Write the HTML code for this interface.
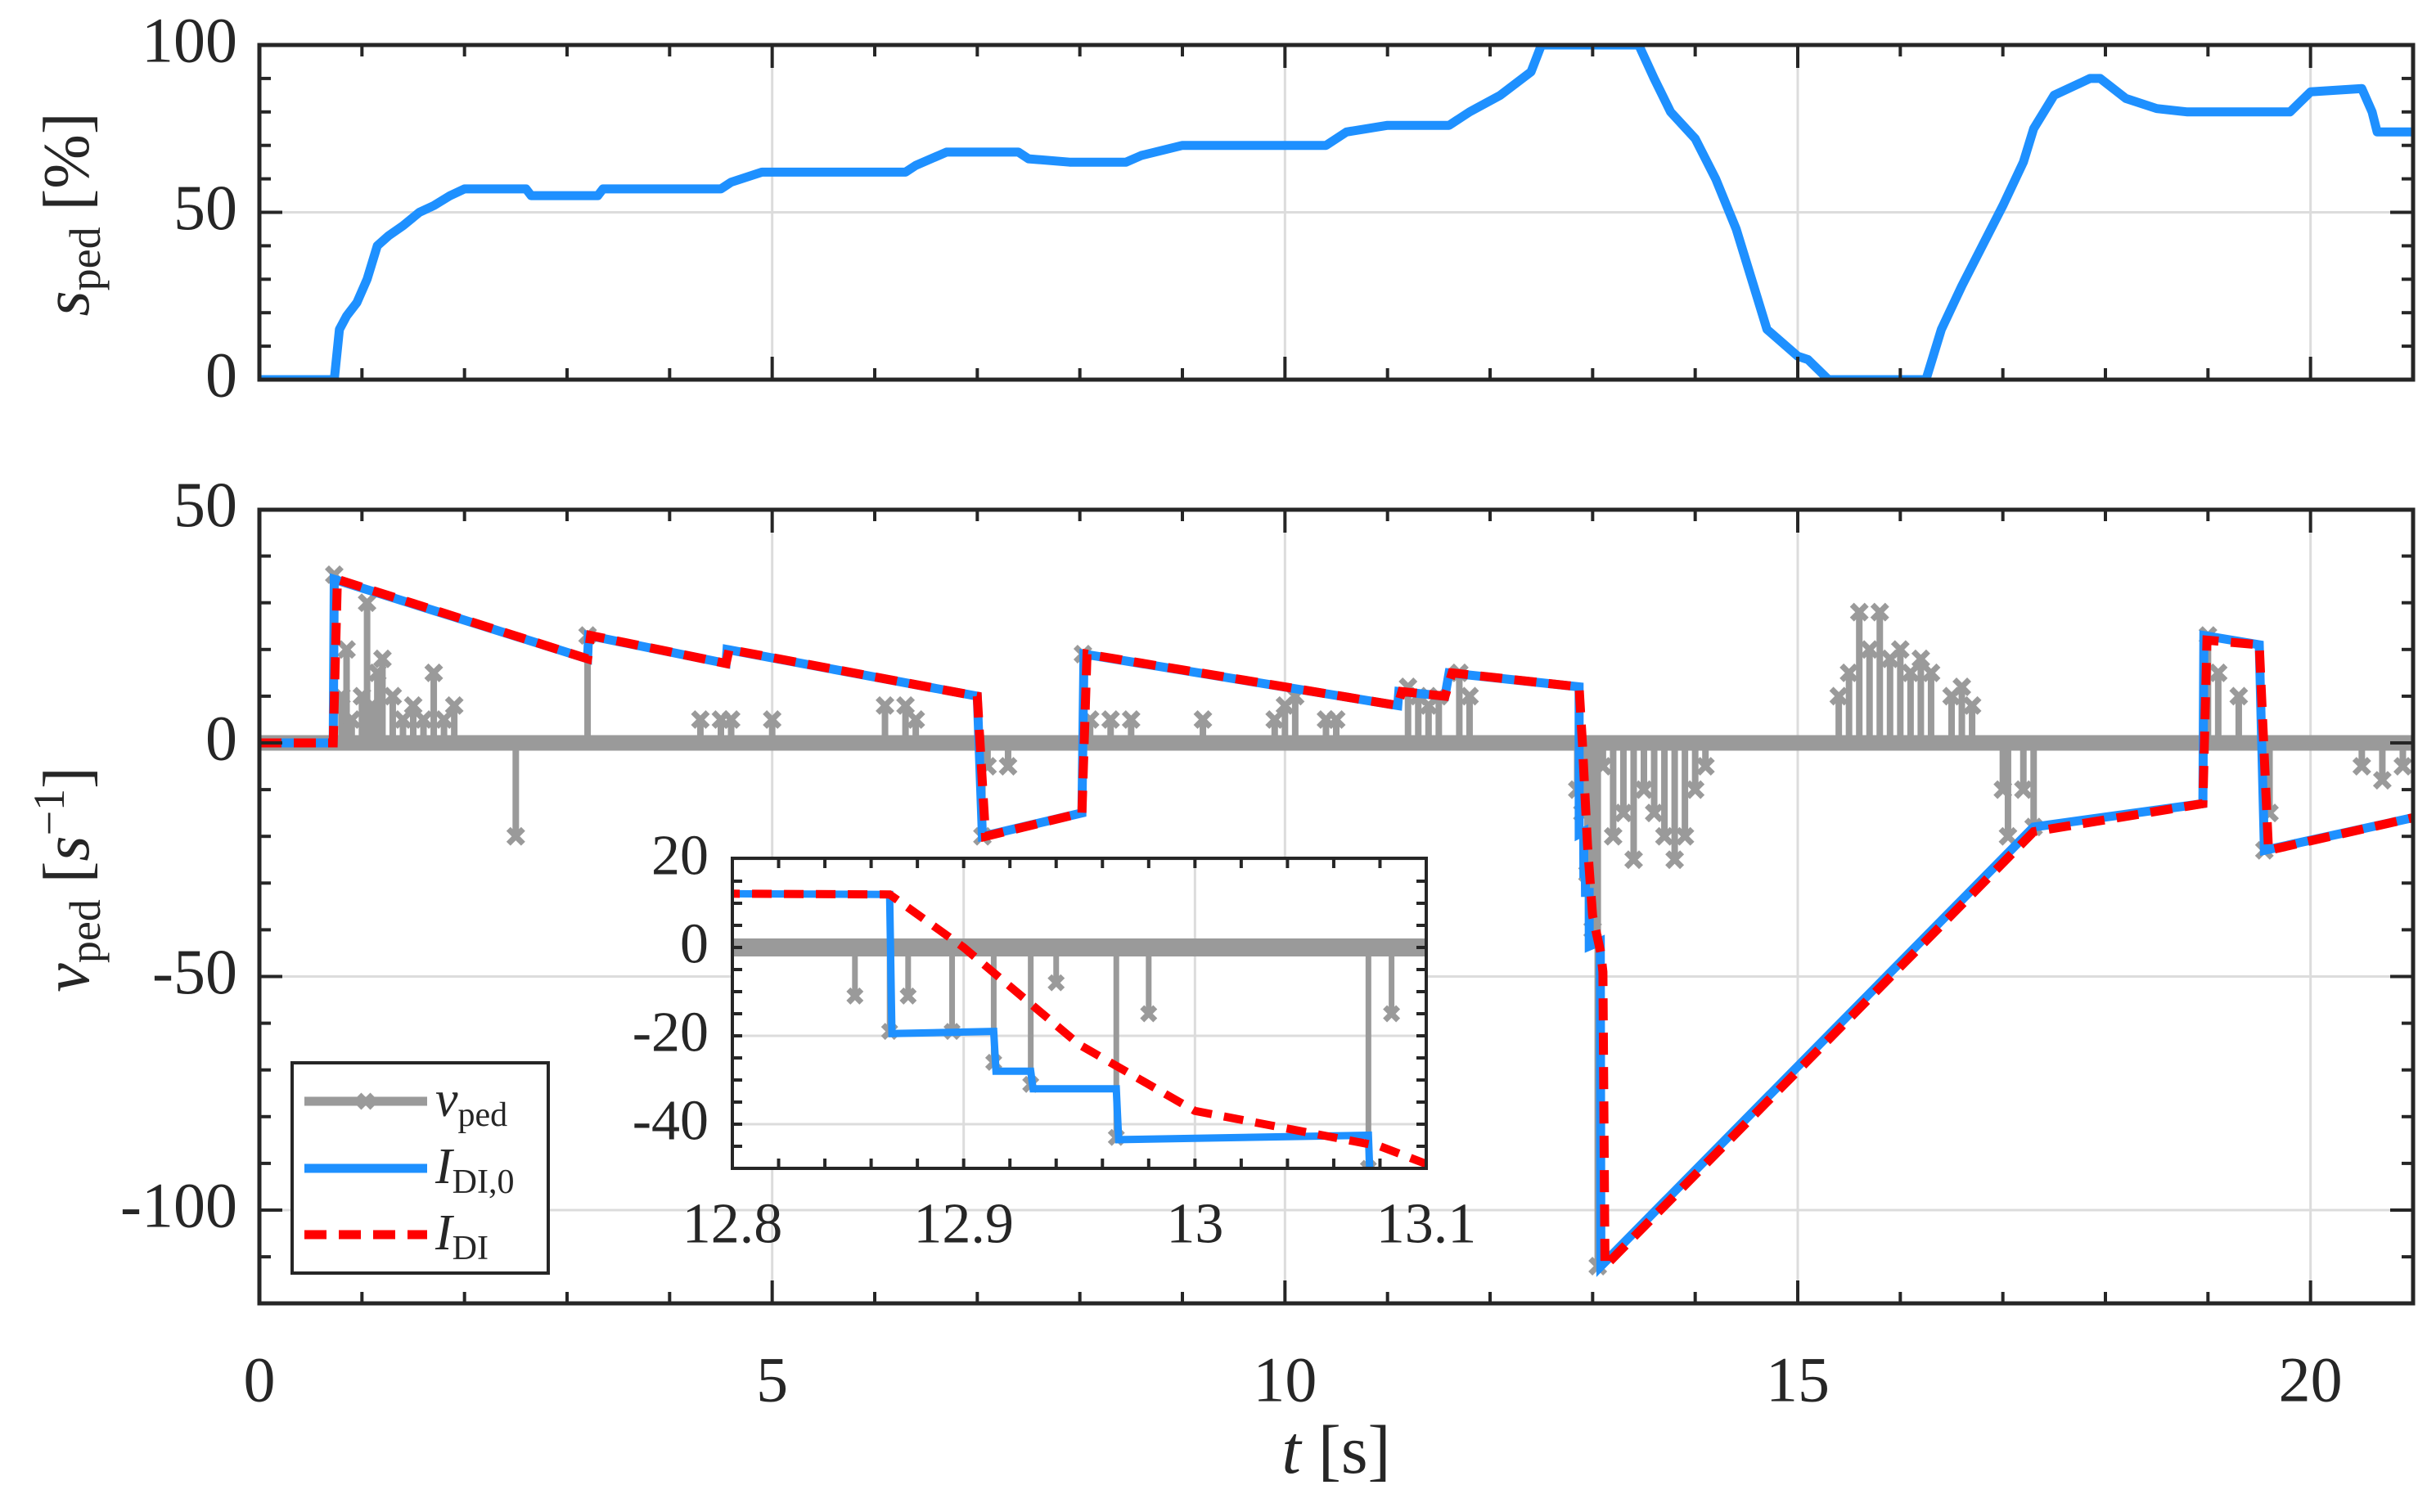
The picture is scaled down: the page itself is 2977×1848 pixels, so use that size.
<!DOCTYPE html>
<html><head><meta charset="utf-8"><style>
html,body{margin:0;padding:0;background:#fff;}
svg{display:block;font-family:"Liberation Serif",serif;}
</style></head><body>
<svg id="chart" width="2977" height="1848" viewBox="0 0 2977 1848" xmlns="http://www.w3.org/2000/svg">
<defs>
<clipPath id="c1"><rect x="317" y="55" width="2632" height="409"/></clipPath>
<clipPath id="c2"><rect x="317" y="623" width="2632" height="970"/></clipPath>
<clipPath id="c3"><rect x="895" y="1049" width="848" height="379"/></clipPath>
</defs>
<g id="root"></g>
</svg>
<script>
// ---- data ----
const sT=[0,0.73,0.78,0.85,0.95,1.05,1.15,1.26,1.4,1.56,1.7,1.86,2.0,2.6,2.65,3.3,3.35,4.5,4.6,4.9,6.3,6.4,6.7,7.4,7.5,7.9,8.45,8.6,9.0,10.4,10.6,11.0,11.6,11.8,12.1,12.4,12.5,13.45,13.6,13.76,14.0,14.2,14.4,14.6,14.7,15.0,15.1,15.3,16.25,16.4,16.6,16.8,17.0,17.2,17.3,17.5,17.85,17.95,18.2,18.5,18.8,19.7,19.8,20.0,20.5,20.6,20.65,21];
const sV=[0,0,15,19,23,30,40,43,46,50,52,55,57,57,55,55,57,57,59,62,62,64,68,68,66,65,65,67,70,70,74,76,76,80,85,92,100,100,90,80,72,60,45,25,15,7,6,0,0,15,28,40,52,65,75,85,90,90,84,81,80,80,80,86,87,80,74,74];
const bT=[0,0.72,0.73,3.2,3.21,4.55,4.56,7.0,7.05,8.02,8.04,11.1,11.11,11.56,11.6,12.868,12.869,12.913,12.914,12.929,12.93,12.966,12.967,13.075,13.08,17.3,18.95,18.96,19.5,19.55,21];
const bV=[0,0,35,18,23,17,20,10,-20,-15,19,8,11,10,15,12,-19.5,-19,-28,-28,-32,-32,-43.5,-42.5,-112,-18,-13,23,21,-23,-16];
const rT=[0,0.72,0.76,3.2,3.23,4.55,4.58,7.0,7.08,8.02,8.07,11.1,11.14,11.56,11.63,12.868,12.9,12.95,13.0,13.05,13.08,13.1,13.12,17.3,18.95,18.99,19.5,19.59,21];
const rV=[0,0,35,18,23,17,20,10,-20,-15,19,8,11,10,15,12,0,-22,-37,-42,-45,-49,-112,-19,-13,22,21,-23,-16];
const gT=[0.73,0.8,0.85,0.9,1.0,1.05,1.1,1.15,1.2,1.3,1.4,1.5,1.6,1.7,1.8,1.9,2.5,3.2,4.3,4.5,4.6,5.0,6.1,6.3,6.4,7.05,7.1,7.3,8.03,8.1,8.3,8.5,9.2,9.9,10.0,10.1,10.4,10.5,11.2,11.3,11.4,11.5,11.7,11.8,12.85,12.9,12.95,13.0,13.05,13.1,13.2,13.3,13.4,13.5,13.6,13.7,13.8,13.9,14.0,14.1,15.4,15.5,15.6,15.7,15.8,15.9,16.0,16.1,16.2,16.3,16.5,16.6,16.7,17.0,17.05,17.2,17.3,19.0,19.1,19.3,19.55,19.6,20.5,20.7,20.9];
const gV=[36,10,20,5,10,30,8,15,18,10,5,8,5,15,5,8,-20,23,5,5,5,5,8,8,5,-20,-5,-5,19,5,5,5,5,5,8,10,5,5,12,10,8,10,15,10,-10,-15,-28,-40,-112,-5,-20,-15,-25,-10,-15,-20,-25,-20,-10,-5,10,15,28,20,28,18,20,15,18,15,10,12,8,-10,-20,-10,-18,23,15,10,-23,-15,-5,-8,-5];
const iT=[12.853,12.868,12.876,12.895,12.913,12.929,12.94,12.966,12.98,13.075,13.085];
const iV=[-11,-19,-11,-19,-26,-31,-8,-43,-15,-50,-15];
const topYTicks=["0","50","100"], botYTicks=["50","0","-50","-100"], xTicks=["0","5","10","15","20"];
const inYTicks=["20","0","-20","-40"], inXTicks=["12.8","12.9","13","13.1"];

// ---- axes ----
const NS="http://www.w3.org/2000/svg", root=document.getElementById('root');
function el(t,a,p){const e=document.createElementNS(NS,t);for(const k in a)e.setAttribute(k,a[k]);(p||root).appendChild(e);return e;}
const X=t=>317+(t-0)*(2632/21);
const Y1=v=>464-v*4.09;
const Y2=v=>908-v*5.71;
const XI=t=>895+(t-12.8)*(848/0.3);
const YI=v=>1158-v*5.4;
const AX="#262626",GR="#dcdcdc",BL="#1e90ff",RD="#ff0000",GY="#9a9a9a";
function pathOf(ts,vs,fx,fy){return ts.map((t,i)=>(i?'L':'M')+fx(t).toFixed(1)+' '+fy(vs[i]).toFixed(1)).join(' ');}
function xmark(g,x,y,s){el('path',{d:`M${x-s} ${y-s}L${x+s} ${y+s}M${x-s} ${y+s}L${x+s} ${y-s}`,stroke:GY,'stroke-width':7,fill:'none'},g);}
function text(s,x,y,anchor,size,g,name){const t=el('text',{x:x,y:y,'text-anchor':anchor,'font-size':size,fill:AX,'dominant-baseline':'central'},g);t.textContent=s;return t;}

// top plot
const g1=el('g',{});


[0,5,10,15,20].forEach(t=>el('line',{x1:X(t),x2:X(t),y1:55,y2:464,stroke:GR,'stroke-width':3},g1));
[0,50,100].forEach(v=>el('line',{x1:317,x2:2949,y1:Y1(v),y2:Y1(v),stroke:GR,'stroke-width':3},g1));
const sp=el('path',{d:pathOf(sT,sV,X,Y1),stroke:BL,'stroke-width':11,fill:'none','clip-path':'url(#c1)','stroke-linejoin':'round'},g1);


for(let t=1;t<21;t++){const L=t%5?14:28;el('line',{x1:X(t),x2:X(t),y1:464,y2:464-L,stroke:AX,'stroke-width':4},g1);el('line',{x1:X(t),x2:X(t),y1:55,y2:55+L,stroke:AX,'stroke-width':4},g1);}
for(let v=10;v<100;v+=10){const L=v%50?14:28;el('line',{x1:317,x2:317+L,y1:Y1(v),y2:Y1(v),stroke:AX,'stroke-width':4},g1);el('line',{x1:2949,x2:2949-L,y1:Y1(v),y2:Y1(v),stroke:AX,'stroke-width':4},g1);}
el('rect',{x:317,y:55,width:2632,height:409,fill:'none',stroke:AX,'stroke-width':5},g1);
topYTicks.forEach(s=>text(s,290,Y1(+s)-6,'end',78,g1,'top-y-tick'));
const yl1=el('text',{transform:'translate(108,262) rotate(-90)','text-anchor':'middle','font-size':80,fill:AX},g1);


yl1.innerHTML='<tspan font-style="italic">s</tspan><tspan font-size="54" dy="14">ped</tspan><tspan dy="-14"> [%]</tspan>';

// bottom plot
const g2=el('g',{});


[0,5,10,15,20].forEach(t=>el('line',{x1:X(t),x2:X(t),y1:623,y2:1593,stroke:GR,'stroke-width':3},g2));
[50,0,-50,-100].forEach(v=>el('line',{x1:317,x2:2949,y1:Y2(v),y2:Y2(v),stroke:GR,'stroke-width':3},g2));
const gg=el('g',{'clip-path':'url(#c2)'},g2);


el('line',{x1:317,x2:2949,y1:Y2(0),y2:Y2(0),stroke:GY,'stroke-width':19},gg);
gT.forEach((t,i)=>{el('line',{x1:X(t),x2:X(t),y1:Y2(0),y2:Y2(gV[i]),stroke:GY,'stroke-width':8},gg);xmark(gg,X(t),Y2(gV[i]),9);});
const bp=el('path',{d:pathOf(bT,bV,X,Y2),stroke:BL,'stroke-width':11,fill:'none','clip-path':'url(#c2)'},g2);


const rp=el('path',{d:pathOf(rT,rV,X,Y2),stroke:RD,'stroke-width':11,fill:'none','stroke-dasharray':'27 15','clip-path':'url(#c2)'},g2);


for(let t=1;t<21;t++){const L=t%5?14:28;el('line',{x1:X(t),x2:X(t),y1:1593,y2:1593-L,stroke:AX,'stroke-width':4},g2);el('line',{x1:X(t),x2:X(t),y1:623,y2:623+L,stroke:AX,'stroke-width':4},g2);}
for(let v=40;v>-120;v-=10){const L=v%50?14:28;el('line',{x1:317,x2:317+L,y1:Y2(v),y2:Y2(v),stroke:AX,'stroke-width':4},g2);el('line',{x1:2949,x2:2949-L,y1:Y2(v),y2:Y2(v),stroke:AX,'stroke-width':4},g2);}
el('rect',{x:317,y:623,width:2632,height:970,fill:'none',stroke:AX,'stroke-width':5},g2);
botYTicks.forEach(s=>text(s,290,Y2(+s)-6,'end',78,g2,'bottom-y-tick'));
xTicks.forEach(s=>text(s,X(+s),1686,'middle',78,g2,'x-tick'));
const yl2=el('text',{transform:'translate(108,1075) rotate(-90)','text-anchor':'middle','font-size':80,fill:AX},g2);


yl2.innerHTML='<tspan font-style="italic">v</tspan><tspan font-size="54" dy="14">ped</tspan><tspan dy="-14"> [</tspan><tspan font-style="italic">s</tspan><tspan font-size="54" dy="-30">−1</tspan><tspan dy="30">]</tspan>';
const xl=el('text',{x:1633,y:1800,'text-anchor':'middle','font-size':84,fill:AX},g2);


xl.innerHTML='<tspan font-style="italic">t</tspan> [s]';

// inset
const g3=el('g',{});


el('rect',{x:895,y:1049,width:848,height:379,fill:'#fff'},g3);
[12.8,12.9,13.0,13.1].forEach(t=>el('line',{x1:XI(t),x2:XI(t),y1:1049,y2:1428,stroke:GR,'stroke-width':3},g3));
[20,0,-20,-40].forEach(v=>el('line',{x1:895,x2:1743,y1:YI(v),y2:YI(v),stroke:GR,'stroke-width':3},g3));
const gi=el('g',{'clip-path':'url(#c3)'},g3);
el('line',{x1:895,x2:1743,y1:YI(0),y2:YI(0),stroke:GY,'stroke-width':22},gi);
iT.forEach((t,i)=>{el('line',{x1:XI(t),x2:XI(t),y1:YI(0),y2:YI(iV[i]),stroke:GY,'stroke-width':7},gi);xmark(gi,XI(t),YI(iV[i]),8);});
el('path',{d:pathOf(bT,bV,XI,YI),stroke:BL,'stroke-width':9,fill:'none'},gi);
el('path',{d:pathOf(rT,rV,XI,YI),stroke:RD,'stroke-width':10,fill:'none','stroke-dasharray':'24 15'},gi);
for(let k=1;k<15;k++){const x=895+k*848/15;el('line',{x1:x,x2:x,y1:1428,y2:1416,stroke:AX,'stroke-width':4},g3);el('line',{x1:x,x2:x,y1:1049,y2:1061,stroke:AX,'stroke-width':4},g3);}
for(let v=15;v>-50;v-=5){el('line',{x1:895,x2:907,y1:YI(v),y2:YI(v),stroke:AX,'stroke-width':4},g3);el('line',{x1:1743,x2:1731,y1:YI(v),y2:YI(v),stroke:AX,'stroke-width':4},g3);}
el('rect',{x:895,y:1049,width:848,height:379,fill:'none',stroke:AX,'stroke-width':4},g3);
inYTicks.forEach(s=>text(s,866,YI(+s)-4,'end',70,g3,'inset-y-tick'));
inXTicks.forEach(s=>text(s,XI(+s),1496,'middle',70,g3,'inset-x-tick'));

// legend
const lg=el('g',{});


el('rect',{x:357,y:1299,width:313,height:257,fill:'#fff',stroke:AX,'stroke-width':4},lg);
el('line',{x1:372,x2:522,y1:1346,y2:1346,stroke:GY,'stroke-width':11},lg);xmark(lg,447,1346,8);
el('line',{x1:372,x2:522,y1:1428,y2:1428,stroke:BL,'stroke-width':11},lg);
el('line',{x1:372,x2:522,y1:1509,y2:1509,stroke:RD,'stroke-width':11,'stroke-dasharray':'27 15'},lg);
[['<tspan font-style="italic">v</tspan><tspan font-size="42" dy="12">ped</tspan>',1364,'legend-entry-v-ped'],['<tspan font-style="italic">I</tspan><tspan font-size="42" dy="12">DI,0</tspan>',1446,'legend-entry-i-di0'],['<tspan font-style="italic">I</tspan><tspan font-size="42" dy="12">DI</tspan>',1527,'legend-entry-i-di']].forEach(a=>{const t=el('text',{x:532,y:a[1],'font-size':62,fill:AX},lg);t.innerHTML=a[0];});
</script>
</body></html>
